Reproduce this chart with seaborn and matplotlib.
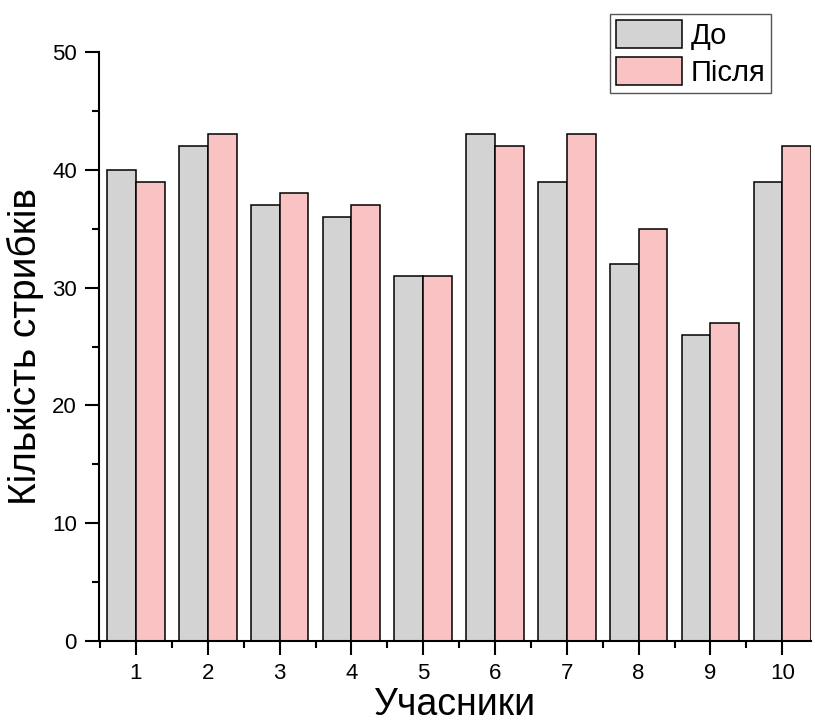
import numpy as np
import pandas as pd
import matplotlib
matplotlib.use("Agg")
import matplotlib.pyplot as plt
import seaborn as sns
from matplotlib.ticker import MultipleLocator, FixedLocator

# Дані
participants = ["1", "2", "3", "4", "5", "6", "7", "8", "9", "10"]
before = [40, 42, 37, 36, 31, 43, 39, 32, 26, 39]
after = [39, 43, 38, 37, 31, 42, 43, 35, 27, 42]
series_names = ["До", "Після"]
colors = ["#D3D3D3", "#F9C3C3"]

df = pd.DataFrame({
    "Учасники": participants * 2,
    "value": before + after,
    "series": [series_names[0]] * len(before) + [series_names[1]] * len(after),
})

sns.set_style("ticks")
plt.rcParams["font.family"] = ["Liberation Sans", "DejaVu Sans"]
plt.rcParams.update({
    "axes.edgecolor": "black", "xtick.color": "black", "ytick.color": "black",
    "text.color": "black", "axes.labelcolor": "black",
})

fig = plt.figure(figsize=(8.15, 7.25), dpi=100)
ax = fig.add_axes([99 / 815, 1 - 641 / 725, (811 - 99) / 815, (641 - 52) / 725])

sns.barplot(data=df, x="Учасники", y="value", hue="series", order=participants,
            hue_order=series_names, palette=colors, width=0.8, saturation=1,
            edgecolor="black", linewidth=1.1, ax=ax)

# Осі
ax.set_xlim(-0.515, 9.4)
ax.set_ylim(0, 50)
ax.yaxis.set_major_locator(MultipleLocator(10))
ax.yaxis.set_minor_locator(MultipleLocator(5))
ax.xaxis.set_minor_locator(FixedLocator(np.arange(-0.5, 9.6, 1.0)))
ax.tick_params(which="major", direction="out", length=10, width=1.5, labelsize=16, pad=6)
ax.tick_params(which="minor", direction="out", length=5, width=1.5)
for side in ["top", "right"]:
    ax.spines[side].set_visible(False)
for side in ["left", "bottom"]:
    ax.spines[side].set_linewidth(1.5)

ax.set_xlabel("Учасники", fontsize=27, labelpad=2)
ax.set_ylabel("Кількість стрибків", fontsize=28, labelpad=6)

# Легенда
leg = ax.legend(loc="upper right", bbox_to_anchor=(771 / 815, 1 - 14 / 725),
                bbox_transform=fig.transFigure, borderaxespad=0, fontsize=21,
                handlelength=2.26, handleheight=1.1, handletextpad=0.3,
                labelspacing=0.25, borderpad=0.2, fancybox=False, framealpha=1)
leg.get_frame().set_edgecolor("#555555")
leg.get_frame().set_linewidth(1.0)

fig.savefig("out.png", dpi=100)
